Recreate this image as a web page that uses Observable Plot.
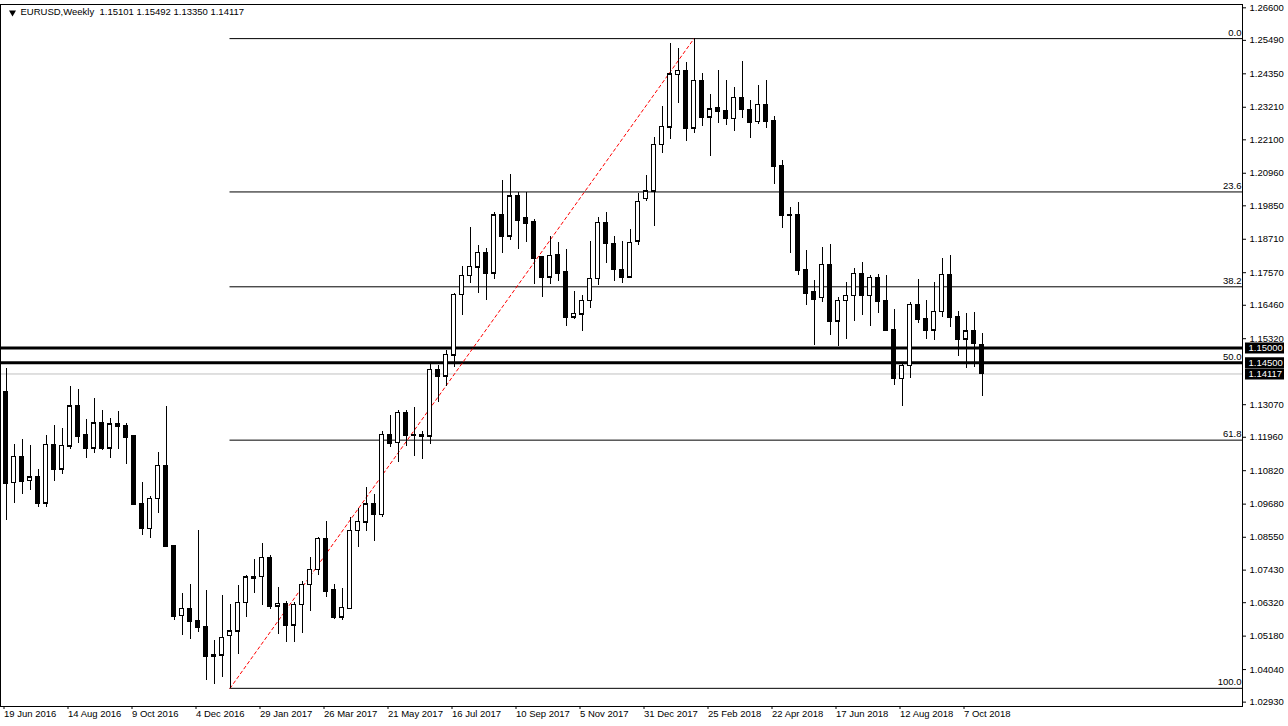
<!DOCTYPE html>
<html><head><meta charset="utf-8">
<script src="https://cdn.jsdelivr.net/npm/d3@7"></script>
<script src="https://cdn.jsdelivr.net/npm/@observablehq/plot@0.6"></script>
<style>
body{margin:0;background:#fff;}
#chart{width:1288px;height:726px;}
</style></head><body><div id="chart"></div>
<script>
const symbol = "EURUSD";
const period = "Weekly";
const firstWeek = "2016-06-19";

const open = [1.1350,1.1041,1.1130,1.1048,1.1059,1.0971,1.1171,1.1087,1.1165,1.1301,
1.1202,1.1159,1.1243,1.1159,1.1240,1.1236,1.1199,1.0969,1.0884,1.0986,
1.1099,1.0825,1.0587,1.0611,1.0571,1.0550,1.0455,1.0453,1.0519,1.0534,
1.0632,1.0721,1.0720,1.0785,1.0620,1.0628,1.0555,1.0625,1.0693,1.0744,
1.0850,1.0674,1.0583,1.0611,1.0877,1.0906,1.0969,1.0932,1.1204,1.1177,
1.1279,1.1204,1.1205,1.1200,1.1426,1.1404,1.1475,1.1682,1.1746,1.1776,
1.1825,1.1755,1.1952,1.1881,1.2017,1.1945,1.1929,1.1809,1.1742,1.1816,
1.1758,1.1605,1.1616,1.1661,1.1736,1.1927,1.1856,1.1767,1.1742,1.1865,
1.2009,1.2035,1.2193,1.2253,1.2432,1.2445,1.2250,1.2412,1.2287,1.2317,
1.2309,1.2282,1.2353,1.2312,1.2271,1.2329,1.2275,1.2122,1.1954,1.1954,
1.1767,1.1691,1.1672,1.1784,1.1592,1.1661,1.1678,1.1753,1.1678,1.1739,
1.1661,1.1562,1.1395,1.1440,1.1647,1.1600,1.1561,1.1624,1.1750,1.1606,
1.1530,1.1558,1.15101];
const high = [1.1430,1.1171,1.1188,1.1168,1.1086,1.1202,1.1236,1.1226,1.1370,1.1359,
1.1257,1.1327,1.1286,1.1259,1.1284,1.1243,1.1203,1.1042,1.0994,1.1144,
1.1301,1.0828,1.0663,1.0694,1.0878,1.0674,1.0503,1.0657,1.0626,1.0691,
1.0725,1.0779,1.0835,1.0793,1.0683,1.0637,1.0634,1.0705,1.0787,1.0855,
1.0909,1.0694,1.0680,1.0924,1.0954,1.1025,1.1001,1.1216,1.1270,1.1287,
1.1287,1.1298,1.1216,1.1450,1.1441,1.1492,1.1687,1.1778,1.1912,1.1850,
1.1841,1.1963,1.2071,1.2092,1.2031,1.2031,1.1937,1.1809,1.1880,1.1860,
1.1837,1.1693,1.1679,1.1862,1.1944,1.1962,1.1880,1.1865,1.1904,1.2026,
1.2088,1.2217,1.2324,1.2537,1.2520,1.2472,1.2555,1.2437,1.2363,1.2446,
1.2413,1.2387,1.2477,1.2343,1.2395,1.2413,1.2288,1.2139,1.1980,1.1997,
1.1833,1.1730,1.1844,1.1853,1.1673,1.1725,1.1770,1.1791,1.1746,1.1750,
1.1747,1.1630,1.1452,1.1654,1.1734,1.1661,1.1725,1.1806,1.1815,1.1624,
1.1617,1.1621,1.15492];
const low = [1.0912,1.0971,1.1001,1.1015,1.0958,1.0955,1.1046,1.1070,1.1155,1.1176,
1.1125,1.1142,1.1151,1.1125,1.1155,1.1104,1.0965,1.0861,1.0852,1.0937,
1.0821,1.0571,1.0520,1.0507,1.0531,1.0367,1.0353,1.0376,1.0340,1.0457,
1.0583,1.0662,1.0624,1.0609,1.0524,1.0497,1.0497,1.0528,1.0603,1.0724,
1.0651,1.0576,1.0571,1.0610,1.0821,1.0876,1.0842,1.0923,1.1162,1.1111,
1.1166,1.1131,1.1121,1.1172,1.1313,1.1370,1.1435,1.1611,1.1721,1.1687,
1.1662,1.1733,1.1823,1.1867,1.1836,1.1860,1.1717,1.1671,1.1717,1.1728,
1.1575,1.1597,1.1555,1.1636,1.1713,1.1787,1.1728,1.1719,1.1740,1.1849,
1.2001,1.1916,1.2164,1.2212,1.2333,1.2205,1.2232,1.2255,1.2154,1.2267,
1.2259,1.2238,1.2282,1.2214,1.2261,1.2249,1.2057,1.1909,1.1823,1.1747,
1.1645,1.1509,1.1654,1.1543,1.1505,1.1528,1.1592,1.1611,1.1574,1.1619,
1.1560,1.1373,1.1302,1.1395,1.1585,1.1529,1.1526,1.1603,1.1571,1.1471,
1.1432,1.1435,1.13350];
const close = [1.1037,1.1130,1.1046,1.1059,1.0971,1.1171,1.1087,1.1167,1.1301,1.1200,
1.1159,1.1243,1.1159,1.1240,1.1234,1.1196,1.0968,1.0884,1.0986,1.1099,
1.0825,1.0586,1.0611,1.0569,1.0547,1.0450,1.0450,1.0512,1.0535,1.0632,
1.0718,1.0716,1.0785,1.0620,1.0628,1.0555,1.0625,1.0693,1.0744,1.0850,
1.0671,1.0583,1.0615,1.0877,1.0908,1.0967,1.0932,1.1204,1.1176,1.1279,
1.1203,1.1202,1.1200,1.1426,1.1404,1.1477,1.1682,1.1746,1.1778,1.1825,
1.1755,1.1952,1.1881,1.2017,1.1936,1.1926,1.1806,1.1742,1.1815,1.1755,
1.1605,1.1617,1.1661,1.1736,1.1927,1.1856,1.1767,1.1742,1.1859,1.1999,
1.2035,1.2193,1.2254,1.2433,1.2445,1.2250,1.2412,1.2287,1.2315,1.2308,
1.2282,1.2353,1.2312,1.2270,1.2329,1.2273,1.2120,1.1952,1.1952,1.1765,
1.1687,1.1667,1.1784,1.1591,1.1661,1.1679,1.1753,1.1678,1.1739,1.1660,
1.1561,1.1395,1.1440,1.1647,1.1598,1.1561,1.1624,1.1750,1.1605,1.1530,
1.1558,1.1516,1.14117];

const xTickLabels = ["19 Jun 2016","14 Aug 2016","9 Oct 2016","4 Dec 2016","29 Jan 2017","26 Mar 2017",
"21 May 2017","16 Jul 2017","10 Sep 2017","5 Nov 2017","31 Dec 2017","25 Feb 2018","22 Apr 2018",
"17 Jun 2018","12 Aug 2018","7 Oct 2018"];
const yTickValues = [1.26600,1.25490,1.24350,1.23210,1.22100,1.20960,1.19850,1.18710,1.17570,1.16460,
1.15320,1.13070,1.11960,1.10820,1.09680,1.08550,1.07430,1.06320,1.05180,1.04040,1.02930];

const thickLevels = [1.15000, 1.14500];
const bidLevel = 1.14117;
const fibLow = 1.0340, fibHigh = 1.2555;
const fibLowWeek = "2017-01-01", fibHighWeek = "2018-02-11";
const fibPercents = [0, 23.6, 38.2, 50, 61.8, 100];

// ---- build tables ----
const start = new Date(firstWeek + "T00:00:00Z");
const candles = open.map((o, i) => ({
  date: d3.utcWeek.offset(start, i), open: o, high: high[i], low: low[i], close: close[i]
}));
const W = 7 * 864e5;
const xDomain = [new Date(+start - 0.6875 * W), new Date(+start + 154.5625 * W)];
const fibStart = new Date(fibLowWeek + "T00:00:00Z");
const fibEnd = new Date(fibHighWeek + "T00:00:00Z");
const fib = fibPercents.map(p => ({value: fibHigh - p / 100 * (fibHigh - fibLow), label: p.toFixed(1)}));
const trend = [{date: fibStart, value: fibLow}, {date: fibEnd, value: fibHigh}];
const parseLabel = d3.utcParse("%d %b %Y");
const xTicks = xTickLabels.map(s => parseLabel(s) || new Date(s + " UTC"));
const fmt5 = d3.format(".5f");
const last = candles[candles.length - 1];
const header = `${symbol},${period}  ${fmt5(last.open)} ${fmt5(last.high)} ${fmt5(last.low)} ${fmt5(last.close)}`;
const boxLevels = [...thickLevels, bidLevel];

const chart = Plot.plot({
  width: 1288, height: 726,
  marginLeft: 0, marginRight: 46, marginTop: 4, marginBottom: 20,
  style: {fontFamily: "'Liberation Sans', Arial, sans-serif", fontSize: "9.5px", background: "white", color: "black", overflow: "visible"},
  x: {type: "utc", domain: xDomain},
  y: {domain: [1.02781, 1.26713]},
  marks: [
    Plot.ruleY([bidLevel], {stroke: "#c0c0c0", strokeWidth: 1}),
    Plot.ruleY(fib, {y: "value", x1: () => fibStart, x2: () => xDomain[1], stroke: "black", strokeWidth: 1}),
    Plot.text(fib, {y: "value", text: "label", frameAnchor: "right", textAnchor: "end", lineAnchor: "bottom", dx: -1, dy: -3, fill: "black"}),
    Plot.ruleY(thickLevels, {stroke: "black", strokeWidth: 3}),
    Plot.line(trend, {x: "date", y: "value", stroke: "#ff0000", strokeWidth: 1, strokeDasharray: "3,3"}),
    Plot.ruleX(candles, {x: "date", y1: "low", y2: "high", stroke: "black", strokeWidth: 1, shapeRendering: "crispEdges"}),
    Plot.rect(candles, {x1: "date", x2: "date", y1: "open", y2: "close", insetLeft: -2, insetRight: -2,
      fill: d => d.close >= d.open ? "white" : "black", stroke: "black", strokeWidth: 1, shapeRendering: "crispEdges"}),
    Plot.ruleY(candles, {y: "open", x1: "date", x2: "date", insetLeft: -2.5, insetRight: -2.5, stroke: "black", shapeRendering: "crispEdges"}),
    Plot.ruleY(candles, {y: "close", x1: "date", x2: "date", insetLeft: -2.5, insetRight: -2.5, stroke: "black", shapeRendering: "crispEdges"}),
    Plot.frame({stroke: "black", strokeWidth: 1}),
    Plot.axisY({anchor: "right", ticks: yTickValues, tickFormat: fmt5, tickSize: 3, tickPadding: 4, label: null, fill: "black", stroke: "black"}),
    Plot.axisX({ticks: xTicks, tickFormat: d3.utcFormat("%-d %b %Y"), textAnchor: "start", dx: -2, tickSize: 3, tickPadding: 1, label: null, fill: "black", stroke: "black"}),
    Plot.ruleY(boxLevels, {stroke: "black", strokeWidth: 11, insetLeft: 1245, insetRight: -42}),
    Plot.text(boxLevels, {y: d => d, text: d => fmt5(d), frameAnchor: "right", textAnchor: "start", dx: 6, fill: "white"}),
    Plot.dot([0], {frameAnchor: "top-left", dx: 12, dy: 8, symbol: "triangle", r: 2.6, fill: "black", stroke: "none", rotate: 180}),
    Plot.text([header], {frameAnchor: "top-left", dx: 20, dy: 4, textAnchor: "start", lineAnchor: "top", fill: "black", text: d => d})
  ]
});
document.getElementById("chart").append(chart);
</script></body></html>
